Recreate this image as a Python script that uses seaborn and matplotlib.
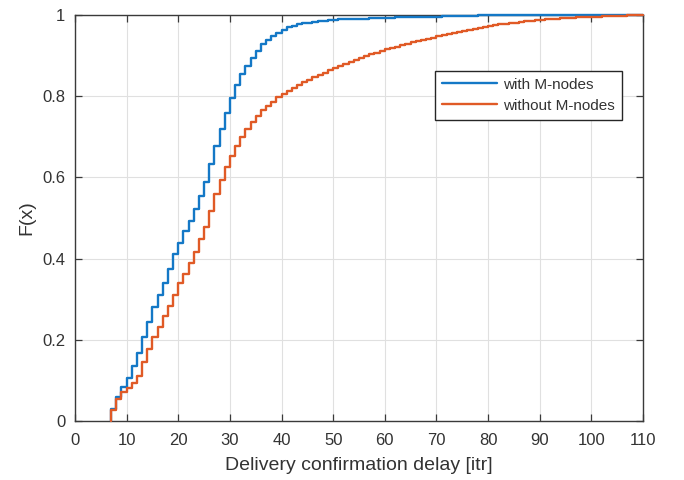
import numpy as np
import pandas as pd
import matplotlib
matplotlib.use("Agg")
import matplotlib.pyplot as plt
import seaborn as sns

# ---- data ----
delays = list(range(7, 111))

cdf_with = [
    0.030, 0.059, 0.084, 0.106, 0.136, 0.168, 0.207, 0.244, 0.281, 0.310,   # 7-16
    0.340, 0.373, 0.410, 0.439, 0.468, 0.493, 0.523, 0.554, 0.589, 0.632,   # 17-26
    0.678, 0.719, 0.759, 0.796, 0.827, 0.855, 0.875, 0.895, 0.912, 0.928,   # 27-36
    0.938, 0.948, 0.956, 0.963, 0.969, 0.973, 0.977, 0.979, 0.981, 0.983,   # 37-46
    0.985, 0.986, 0.987, 0.988, 0.989, 0.989, 0.990, 0.990, 0.991, 0.991,   # 47-56
    0.992, 0.992, 0.992, 0.993, 0.993, 0.994, 0.994, 0.994, 0.995, 0.995,   # 57-66
    0.995, 0.996, 0.996, 0.996, 0.997, 0.997, 0.997, 0.998, 0.998, 0.998,   # 67-76
    0.998, 0.999, 0.999, 0.999, 0.999, 0.999, 1.000, 1.000, 1.000, 1.000,   # 77-86
    1.000, 1.000, 1.000, 1.000, 1.000, 1.000, 1.000, 1.000, 1.000, 1.000,   # 87-96
    1.000, 1.000, 1.000, 1.000, 1.000, 1.000, 1.000, 1.000, 1.000, 1.000,   # 97-106
    1.000, 1.000, 1.000, 1.000,                                             # 107-110
]

cdf_without = [
    0.026, 0.055, 0.071, 0.081, 0.094, 0.110, 0.145, 0.178, 0.207, 0.232,   # 7-16
    0.259, 0.283, 0.310, 0.339, 0.362, 0.388, 0.417, 0.447, 0.478, 0.518,   # 17-26
    0.558, 0.593, 0.626, 0.652, 0.678, 0.700, 0.718, 0.735, 0.751, 0.766,   # 27-36
    0.776, 0.786, 0.797, 0.805, 0.813, 0.820, 0.827, 0.834, 0.840, 0.846,   # 37-46
    0.852, 0.858, 0.864, 0.869, 0.874, 0.879, 0.884, 0.889, 0.894, 0.898,   # 47-56
    0.903, 0.907, 0.911, 0.915, 0.919, 0.922, 0.926, 0.929, 0.932, 0.935,   # 57-66
    0.938, 0.941, 0.944, 0.947, 0.950, 0.953, 0.955, 0.958, 0.960, 0.963,   # 67-76
    0.965, 0.968, 0.970, 0.973, 0.975, 0.977, 0.978, 0.980, 0.981, 0.983,   # 77-86
    0.984, 0.985, 0.987, 0.988, 0.989, 0.990, 0.991, 0.992, 0.993, 0.993,   # 87-96
    0.994, 0.995, 0.995, 0.996, 0.996, 0.997, 0.997, 0.998, 0.998, 0.998,   # 97-106
    0.999, 0.999, 1.000, 1.000,                                             # 107-110
]

series_names = ["with M-nodes", "without M-nodes"]
series_colors = ["#1478C6", "#E05A26"]
x_ticks = list(range(0, 111, 10))
y_ticks = [0, 0.2, 0.4, 0.6, 0.8, 1.0]
y_tick_labels = ["0", "0.2", "0.4", "0.6", "0.8", "1"]
x_label = "Delivery confirmation delay [itr]"
y_label = "F(x)"

# ---- build long table; each curve starts with a vertical rise from 0 ----
frames = []
for name, vals in zip(series_names, [cdf_with, cdf_without]):
    xs = [delays[0]] + delays
    ys = [0.0] + vals
    frames.append(pd.DataFrame({"delay": xs, "F": ys, "series": name}))
df = pd.concat(frames, ignore_index=True)

sns.set_theme(style="white")
plt.rcParams["font.family"] = ["Liberation Sans", "DejaVu Sans"]

fig = plt.figure(figsize=(6.84, 4.8), dpi=100)
ax = fig.add_axes([0.1096, 0.123, 0.8304, 0.846])

sns.lineplot(data=df, x="delay", y="F", hue="series", hue_order=series_names,
             palette=series_colors, estimator=None, sort=False,
             drawstyle="steps-post", linewidth=1.7, ax=ax)
for ln in ax.get_lines():
    ln.set_zorder(4)
    ln.set_clip_on(False)

ax.set_xlim(0, 110)
ax.set_ylim(0, 1)
ax.set_xticks(x_ticks)
ax.set_xticklabels([str(t) for t in x_ticks])
ax.set_yticks(y_ticks)
ax.set_yticklabels(y_tick_labels)

txt_col = "#333333"
ax.grid(True, color="#e0e0e0", linewidth=0.8)
ax.set_axisbelow(True)
for s in ax.spines.values():
    s.set_visible(True)
    s.set_color("#3a3a3a")
    s.set_linewidth(1.0)
    s.set_zorder(3)
ax.tick_params(axis="both", which="both", direction="in", length=5, width=0.9,
               colors="#3a3a3a", labelsize=12, top=True, right=True,
               bottom=True, left=True)
ax.tick_params(axis="x", pad=9)
ax.tick_params(axis="y", pad=7)
for lab in ax.get_xticklabels() + ax.get_yticklabels():
    lab.set_color(txt_col)

ax.set_xlabel(x_label, fontsize=14, color=txt_col, labelpad=6)
ax.set_ylabel(y_label, fontsize=14, color=txt_col, labelpad=5)

leg = ax.legend(loc="upper left", bbox_to_anchor=(0.634, 0.862), frameon=True,
                fancybox=False, shadow=False, fontsize=11, handlelength=3.6,
                borderpad=0.45, labelspacing=0.45, handletextpad=0.4,
                borderaxespad=0)
leg.get_frame().set_edgecolor("#262626")
leg.get_frame().set_linewidth(1.0)
leg.get_frame().set_facecolor("white")
leg.get_frame().set_alpha(1)
for t in leg.get_texts():
    t.set_color(txt_col)

fig.savefig("out.png", dpi=100, facecolor="white")
